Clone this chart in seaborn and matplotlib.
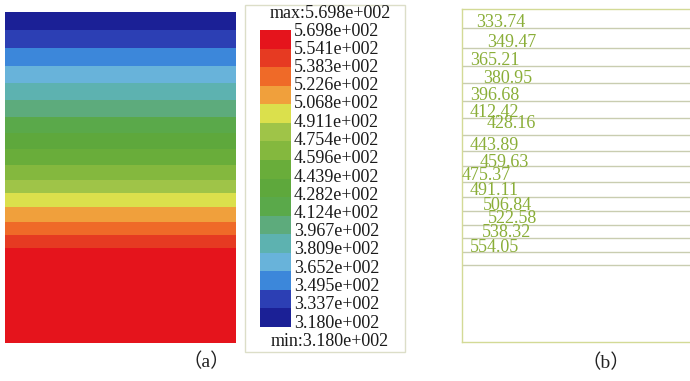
import numpy as np
import matplotlib
matplotlib.use("Agg")
import matplotlib.pyplot as plt
from matplotlib.colors import ListedColormap
from matplotlib.patches import Rectangle
import seaborn as sns

# ---- data -----------------------------------------------------------------
# contour temperature levels, coolest first
contour_levels = [333.74, 349.47, 365.21, 380.95, 396.68, 412.42, 428.16,
                  443.89, 459.63, 475.37, 491.11, 506.84, 522.58, 538.32, 554.05]

# legend tick labels, warmest first
legend_ticks = ["5.698e+002", "5.541e+002", "5.383e+002", "5.226e+002",
                "5.068e+002", "4.911e+002", "4.754e+002", "4.596e+002",
                "4.439e+002", "4.282e+002", "4.124e+002", "3.967e+002",
                "3.809e+002", "3.652e+002", "3.495e+002", "3.337e+002",
                "3.180e+002"]
t_max_label = "5.698e+002"
t_min_label = "3.180e+002"

# one colour per temperature band, coolest first
band_colors = ["#1b2096", "#2c3fb4", "#3c87da", "#68b3da", "#5db2b0",
               "#5dab7c", "#5aa94a", "#5ea83c", "#69ad3a", "#84b83e",
               "#9fc448", "#dbe04c", "#f0a03c", "#ef6a28", "#e63a22",
               "#e5141c"]

# depth of the band boundaries in the filled plot (top = 0)
band_edges = [0, 18.5, 36.5, 54.5, 71.5, 88.5, 105.5, 121.5, 137.5, 153.5,
              168.5, 181.5, 195.5, 210.5, 223.5, 236.5, 331.5]

# depth of the isotherm lines in the line plot (top = 0)
line_depths = [19, 39, 57, 74, 92, 109, 126, 142, 157, 173, 188, 202, 216,
               229, 243, 256]
box_depth_b = 333

# ---- label layout for the isotherm plot -----------------------------------
label_x = [14, 25, 8, 21, 8, 8, 25, 8, 18, 0, 8, 21, 26, 20, 8]
label_dy = [-1, -1, -1, 0, -1, -1, -7, -1, 1, -2, -2, -1, -2, -1, 0]

# ---- figure ---------------------------------------------------------------
sns.set_theme(style="white")
plt.rcParams["font.family"] = ["Liberation Serif", "Noto Sans CJK SC"]

W, H = 690, 381
fig = plt.figure(figsize=(W / 100, H / 100), dpi=100)
fig.patch.set_facecolor("white")


def fig_rect(x0, y0, x1, y1):
    """pixel box (top-left origin) -> figure fraction rect"""
    return [x0 / W, 1 - y1 / H, (x1 - x0) / W, (y1 - y0) / H]


# (a) filled temperature bands
ax_a = fig.add_axes(fig_rect(5, 11.5, 236, 343))
edges = np.array(band_edges)
ax_a.barh(edges[:-1], width=1, height=np.diff(edges), left=0, align="edge",
          color=band_colors, edgecolor="none", linewidth=0)
ax_a.set_xlim(0, 1)
ax_a.set_ylim(band_edges[-1], 0)
ax_a.axis("off")

# legend swatches
ax_c = fig.add_axes(fig_rect(260, 30, 291, 327))
n = len(band_colors)
sns.heatmap(np.arange(n)[::-1].reshape(-1, 1), ax=ax_c,
            cmap=ListedColormap(band_colors), vmin=-0.5, vmax=n - 0.5,
            cbar=False, xticklabels=False, yticklabels=False)
ax_c.tick_params(left=False, bottom=False)

# legend frame and labels
fig.patches.append(Rectangle((245 / W, 1 - 352 / H), 160 / W, 347 / H,
                             transform=fig.transFigure, fill=False,
                             edgecolor="#dcdec8", linewidth=1.0))
txt_kw = dict(fontsize=13, color="#1a1a1a", family=["Liberation Serif"])
fig.text(330 / W, 1 - 14 / H, "max:" + t_max_label, ha="center",
         va="center", **txt_kw)
fig.text(330 / W, 1 - 341 / H, "min:" + t_min_label, ha="center",
         va="center", **txt_kw)
for i, lab in enumerate(legend_ticks):
    fig.text(294 / W, 1 - (31 + 18.25 * i) / H, lab, ha="left",
             va="center", **txt_kw)

# (b) isotherm lines
ax_b = fig.add_axes(fig_rect(462, 9, 702, 342))
ax_b.set_xlim(0, 240)
ax_b.set_ylim(box_depth_b, 0)
ax_b.set_xticks([])
ax_b.set_yticks([])
for side, sp in ax_b.spines.items():
    sp.set_visible(side != "right")
    sp.set_color("#d3da96")
    sp.set_linewidth(1.0)
ax_b.hlines(line_depths, 0, 1, transform=ax_b.get_yaxis_transform(),
            colors="#c9cdb0", linewidth=1.0)
for lvl, d, x, dy in zip(contour_levels, line_depths, label_x, label_dy):
    ax_b.text(x, d + dy, f"{lvl:.2f}", ha="left", va="baseline",
              fontsize=13, color="#8aae38", family=["Liberation Serif"])

# panel captions
cap_kw = dict(fontsize=14, color="#222222", ha="center", va="center",
              family=["Liberation Serif", "Noto Sans CJK SC"])
fig.text(206 / W, 1 - 362 / H, "（a）", **cap_kw)
fig.text(606 / W, 1 - 363 / H, "（b）", **cap_kw)

fig.savefig("out.png", dpi=100, facecolor="white")
